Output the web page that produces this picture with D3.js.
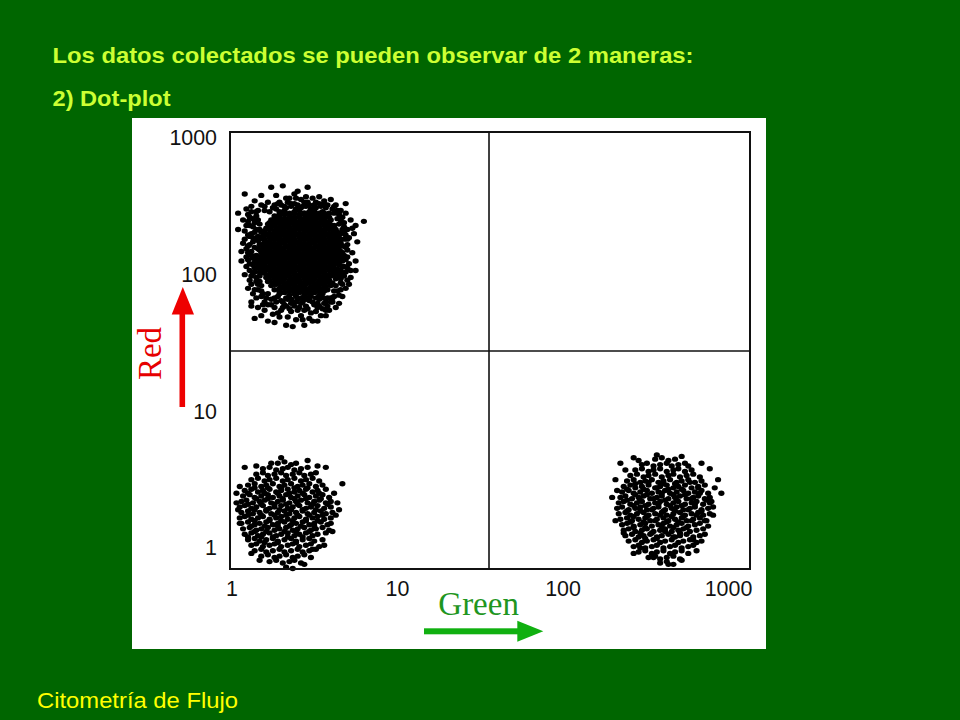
<!DOCTYPE html>
<html><head><meta charset="utf-8">
<script src="https://cdn.jsdelivr.net/npm/d3@7"></script>
<style>html,body{margin:0;padding:0;background:#006600;} svg{display:block;}</style>
</head><body><svg id="c" width="960" height="720"></svg>
<script>
// ---- text ----
const titleLines = ["Los datos colectados se pueden observar de 2 maneras:", "2) Dot-plot"];
const footerText = "Citometría de Flujo";
const xAxisName = "Green";
const yAxisName = "Red";
// ---- axes (log-channel units: 100 channels per decade, 0 = intensity 1) ----
const tickValues = [0, 100, 200, 300];
const tickLabels = ["1", "10", "100", "1000"];
const xDomain = [-0.9, 313.3];
const yDomain = [-15.4, 304.4];
const gateGreen = [155.6];
const gateRed = [144.1];
// ---- events: [green channel, red channel] ----
const clusterTopLeft = [
[33,249],[36,250],[39,248],[42,249],[45,250],[48,248],[51,249],
[29,246],[32,247],[35,245],[38,246],[41,247],[44,245],[47,246],[50,247],[53,245],[55,246],
[26,243],[29,242],[32,244],[35,243],[38,242],[41,243],[44,244],[47,242],[50,243],[53,244],[56,242],[58,243],
[24,240],[27,241],[30,239],[33,240],[36,241],[39,239],[42,240],[45,241],[48,239],[51,240],[54,241],[57,239],[60,240],
[22,237],[25,236],[28,238],[31,237],[34,236],[37,238],[40,237],[43,236],[46,238],[49,237],[52,236],[55,238],[58,237],[61,236],
[21,234],[24,235],[27,233],[30,234],[33,235],[36,233],[39,234],[42,235],[45,233],[48,234],[51,235],[54,233],[57,234],[60,235],[63,233],
[20,231],[23,230],[26,232],[29,231],[32,230],[35,232],[38,231],[41,230],[44,232],[47,231],[50,230],[53,232],[56,231],[59,230],[62,232],[64,231],
[19,228],[22,229],[25,227],[28,228],[31,229],[34,227],[37,228],[40,229],[43,227],[46,228],[49,229],[52,227],[55,228],[58,229],[61,227],[64,228],
[20,225],[23,224],[26,226],[29,225],[32,224],[35,226],[38,225],[41,224],[44,226],[47,225],[50,224],[53,226],[56,225],[59,224],[62,226],[65,225],
[18,222],[21,223],[24,221],[27,222],[30,223],[33,221],[36,222],[39,223],[42,221],[45,222],[48,223],[51,221],[54,222],[57,223],[60,221],[63,222],[66,223],
[19,219],[22,218],[25,220],[28,219],[31,218],[34,220],[37,219],[40,218],[43,220],[46,219],[49,218],[52,220],[55,219],[58,218],[61,220],[64,219],
[18,216],[21,217],[24,215],[27,216],[30,217],[33,215],[36,216],[39,217],[42,215],[45,216],[48,217],[51,215],[54,216],[57,217],[60,215],[63,216],[66,217],
[19,213],[22,212],[25,214],[28,213],[31,212],[34,214],[37,213],[40,212],[43,214],[46,213],[49,212],[52,214],[55,213],[58,212],[61,214],[64,213],
[18,210],[21,211],[24,209],[27,210],[30,211],[33,209],[36,210],[39,211],[42,209],[45,210],[48,211],[51,209],[54,210],[57,211],[60,209],[63,210],[66,211],
[20,207],[23,206],[26,208],[29,207],[32,206],[35,208],[38,207],[41,206],[44,208],[47,207],[50,206],[53,208],[56,207],[59,206],[62,208],[65,207],
[19,204],[22,205],[25,203],[28,204],[31,205],[34,203],[37,204],[40,205],[43,203],[46,204],[49,205],[52,203],[55,204],[58,205],[61,203],[64,204],
[20,201],[23,200],[26,202],[29,201],[32,200],[35,202],[38,201],[41,200],[44,202],[47,201],[50,200],[53,202],[56,201],[59,200],[62,202],[64,201],
[21,198],[24,199],[27,197],[30,198],[33,199],[36,197],[39,198],[42,199],[45,197],[48,198],[51,199],[54,197],[57,198],[60,199],[63,197],
[22,195],[25,194],[28,196],[31,195],[34,194],[37,196],[40,195],[43,194],[46,196],[49,195],[52,194],[55,196],[58,195],[61,194],
[24,192],[27,193],[30,191],[33,192],[36,193],[39,191],[42,192],[45,193],[48,191],[51,192],[54,193],[57,191],[60,192],
[26,189],[29,188],[32,190],[35,189],[38,188],[41,190],[44,189],[47,188],[50,190],[53,189],[56,188],[58,189],
[29,186],[32,187],[35,185],[38,186],[41,187],[44,185],[47,186],[50,187],[53,185],[55,186],
[33,183],[36,182],[39,184],[42,183],[45,182],[48,184],[51,183],
[29,244],[32,245],[35,244],[38,245],[41,244],[44,245],[47,244],[50,245],[53,244],[56,245],
[26,241],[29,242],[32,241],[35,242],[38,241],[41,242],[44,241],[47,242],[50,241],[53,242],[56,241],[59,242],
[23,238],[26,239],[29,238],[32,239],[35,238],[38,239],[41,238],[44,239],[47,238],[50,239],[53,238],[56,239],[59,238],
[23,235],[26,236],[29,235],[32,236],[35,235],[38,236],[41,235],[44,236],[47,235],[50,236],[53,235],[56,236],[59,235],[62,236],
[20,232],[23,233],[26,232],[29,233],[32,232],[35,233],[38,232],[41,233],[44,232],[47,233],[50,232],[53,233],[56,232],[59,233],[62,232],
[20,229],[23,230],[26,229],[29,230],[32,229],[35,230],[38,229],[41,230],[44,229],[47,230],[50,229],[53,230],[56,229],[59,230],[62,229],
[20,226],[23,227],[26,226],[29,227],[32,226],[35,227],[38,226],[41,227],[44,226],[47,227],[50,226],[53,227],[56,226],[59,227],[62,226],[65,227],
[20,223],[23,224],[26,223],[29,224],[32,223],[35,224],[38,223],[41,224],[44,223],[47,224],[50,223],[53,224],[56,223],[59,224],[62,223],[65,224],
[20,220],[23,221],[26,220],[29,221],[32,220],[35,221],[38,220],[41,221],[44,220],[47,221],[50,220],[53,221],[56,220],[59,221],[62,220],[65,221],
[20,217],[23,218],[26,217],[29,218],[32,217],[35,218],[38,217],[41,218],[44,217],[47,218],[50,217],[53,218],[56,217],[59,218],[62,217],[65,218],
[20,214],[23,215],[26,214],[29,215],[32,214],[35,215],[38,214],[41,215],[44,214],[47,215],[50,214],[53,215],[56,214],[59,215],[62,214],[65,215],
[20,211],[23,212],[26,211],[29,212],[32,211],[35,212],[38,211],[41,212],[44,211],[47,212],[50,211],[53,212],[56,211],[59,212],[62,211],[65,212],
[20,208],[23,209],[26,208],[29,209],[32,208],[35,209],[38,208],[41,209],[44,208],[47,209],[50,208],[53,209],[56,208],[59,209],[62,208],[65,209],
[20,205],[23,206],[26,205],[29,206],[32,205],[35,206],[38,205],[41,206],[44,205],[47,206],[50,205],[53,206],[56,205],[59,206],[62,205],
[20,202],[23,203],[26,202],[29,203],[32,202],[35,203],[38,202],[41,203],[44,202],[47,203],[50,202],[53,203],[56,202],[59,203],[62,202],
[23,199],[26,200],[29,199],[32,200],[35,199],[38,200],[41,199],[44,200],[47,199],[50,200],[53,199],[56,200],[59,199],[62,200],
[23,196],[26,197],[29,196],[32,197],[35,196],[38,197],[41,196],[44,197],[47,196],[50,197],[53,196],[56,197],[59,196],
[26,193],[29,194],[32,193],[35,194],[38,193],[41,194],[44,193],[47,194],[50,193],[53,194],[56,193],[59,194],
[29,190],[32,191],[35,190],[38,191],[41,190],[44,191],[47,190],[50,191],[53,190],[56,191],
[32,187],[35,188],[38,187],[41,188],[44,187],[47,188],[50,187],[53,188],
[24,264],[31,265],[46,264],[8,259],[18,258],[27,258],[38,259],[53,257],[60,255],[14,254],[22,253],[29,253],[56,252],[63,251],[69,252],[20,250],[26,251],[57,249],[61,248],[66,247],[35,256],[42,255],[49,256],[40,261],[16,247],[23,246],[59,245],
[4,245],[4,233],[6,217],[7,240],[9,236],[11,242],[12,230],[14,238],[8,226],[10,221],[13,224],[15,233],[16,228],[6,210],[9,206],[12,214],[14,209],[8,200],[11,196],[14,202],[16,205],[10,190],[13,186],[16,193],[17,199],[12,180],[15,183],[18,188],[16,176],[12,177],[20,180],[22,186],
[80,239],[69,245],[72,240],[75,236],[68,238],[70,233],[74,230],[67,233],[71,227],[76,224],[68,226],[69,220],[73,216],[70,213],[75,210],[68,206],[72,203],[75,203],[67,200],[70,196],[66,194],[69,190],[64,188],[67,184],[62,184],[65,179],[60,180],[63,176],[59,174],[57,170],
[14,168],[26,165],[37,162],[49,166],[20,174],[24,178],[28,172],[31,176],[34,169],[36,179],[40,174],[43,167],[45,177],[48,172],[52,176],[54,170],[56,179],[30,181],[39,180],[47,181],[33,163],[42,170],[26,183],[53,182],[18,170],[22,166],[44,163],[58,183],
[9,248],[12,246],[15,243],[10,239],[13,235],[17,237],[8,232],[11,228],[14,226],[17,222],[9,219],[12,217],[15,214],[10,211],[13,207],[16,211],[11,203],[15,198],[12,193],[17,195],[14,189],[18,184],[9,213],[7,223],[16,219],
[67,242],[65,237],[69,229],[67,216],[70,222],[71,208],[67,210],[69,202],[66,197],[72,198],[68,214],[73,234],[64,241],[62,245],[71,193],
[22,178],[27,180],[32,178],[35,175],[38,177],[42,179],[44,174],[50,178],[55,175],[58,177],[61,180],[29,169],[39,167],[47,168],[52,166],[25,171],
[30,251],[34,253],[38,252],[44,253],[47,251],[51,253],[54,250],[27,248],[58,251],[65,244],
[10,244],[13,241],[16,240],[11,236],[14,231],[17,233],[10,229],[13,227],[16,225],[11,222],[14,220],[17,218],[10,216],[13,212],[16,208],[11,208],[14,205],[17,202],[12,199],[15,195],[18,192],[16,189],[19,186],[13,201],[18,207],[18,213],[17,226],[18,231],[15,246],[12,250],
[66,240],[68,235],[66,230],[70,226],[67,221],[70,218],[66,213],[69,211],[67,206],[70,205],[66,203],[68,199],[65,198],[67,193],[63,192],[66,189],[65,185],[62,188],[61,183],[68,231],
[24,182],[28,184],[31,180],[34,182],[37,180],[40,182],[43,180],[46,183],[49,180],[52,179],[55,183],[57,180],[60,183],[26,176],[30,174],[33,177],[36,173],[41,176],[46,175],[51,173],[53,177],[57,174],[21,183],[19,178],
[25,249],[28,252],[32,250],[36,252],[40,251],[43,250],[46,253],[50,251],[53,252],[56,254],[62,250],[64,247],[20,247],[18,251],[33,256],[45,257],[39,256]
];
const clusterBottomLeft = [
[28,62],[32,63],[36,61],[39,62],
[19,58],[23,59],[27,57],[31,58],[34,59],[38,57],[42,58],[46,59],
[15,54],[19,55],[22,53],[26,54],[30,55],[33,53],[37,54],[41,55],[44,53],[48,54],[51,55],
[12,50],[16,51],[20,49],[23,50],[27,51],[31,49],[34,50],[38,51],[42,49],[45,50],[49,51],[53,49],
[10,46],[14,47],[18,45],[21,46],[25,47],[29,45],[32,46],[36,47],[40,45],[43,46],[47,47],[51,45],[55,46],
[8,42],[12,43],[16,41],[19,42],[23,43],[27,41],[30,42],[34,43],[38,41],[41,42],[45,43],[49,41],[52,42],[57,43],
[7,38],[11,39],[14,37],[18,38],[22,39],[25,37],[29,38],[33,39],[36,37],[40,38],[44,39],[47,37],[51,38],[55,39],[59,37],
[6,34],[9,35],[13,33],[17,34],[20,35],[24,33],[28,34],[31,35],[35,33],[39,34],[42,35],[46,33],[50,34],[53,35],[57,33],[60,34],
[5,30],[8,31],[12,29],[15,30],[19,31],[23,29],[26,30],[30,31],[34,29],[37,30],[41,31],[45,29],[48,30],[52,31],[56,29],[60,30],
[6,26],[10,27],[13,25],[17,26],[21,27],[24,25],[28,26],[32,27],[35,25],[39,26],[43,27],[46,25],[50,26],[54,27],[57,25],[61,26],
[5,22],[8,23],[12,21],[16,22],[19,23],[23,21],[27,22],[30,23],[34,21],[38,22],[41,23],[45,21],[49,22],[52,23],[56,21],[60,22],
[6,18],[10,19],[14,17],[17,18],[21,19],[25,17],[28,18],[32,19],[36,17],[39,18],[43,19],[47,17],[50,18],[54,19],[58,17],
[7,14],[11,15],[15,13],[18,14],[22,15],[26,13],[29,14],[33,15],[37,13],[40,14],[44,15],[48,13],[51,14],[55,15],[59,13],
[8,10],[12,11],[16,9],[19,10],[23,11],[27,9],[30,10],[34,11],[38,9],[41,10],[45,11],[49,9],[52,10],[57,11],
[10,6],[14,7],[17,5],[21,6],[25,7],[28,5],[32,6],[36,7],[39,5],[43,6],[47,7],[50,5],[55,6],
[12,2],[15,3],[19,1],[23,2],[26,3],[30,1],[34,2],[37,3],[41,1],[45,2],[48,3],[53,1],
[14,-2],[18,-1],[21,-3],[25,-2],[29,-1],[32,-3],[36,-2],[40,-1],[43,-3],[47,-2],[51,-1],
[18,-6],[22,-5],[26,-7],[29,-6],[33,-5],[37,-7],[40,-6],[44,-5],[48,-7],
[23,-10],[27,-9],[31,-11],[35,-10],[38,-9],[42,-11],
[8,59],[30,66],[46,64],[67,47],[57,59],[5,45],[3,33],[5,18],[10,8],[37,-15],[44,-12],[64,33],[60,18],[49,-1],[62,40],[63,24],[4,28],[3,40],[52,60],[24,62],[15,60],[61,12],[56,2],[17,-9],[12,-4],[33,-14],[65,28],
[14,44],[22,44],[30,44],[38,44],[46,44],
[10,40],[20,40],[28,40],[35,40],[43,40],[53,40],
[15,36],[22,36],[31,36],[38,36],[45,36],[54,36],
[10,32],[18,32],[26,32],[33,32],[40,32],[49,32],[58,32],
[14,28],[21,28],[29,28],[36,28],[43,28],[51,28],
[10,24],[18,24],[26,24],[33,24],[40,24],[47,24],[55,24],
[14,20],[23,20],[30,20],[37,20],[45,20],[52,20],
[12,16],[20,16],[28,16],[35,16],[42,16],[50,16],
[14,12],[21,12],[32,12],[39,12],[47,12],
[18,8],[25,8],[34,8],[43,8],
[20,4],[28,4],[39,4]
];
const clusterBottomRight = [
[256,65],[260,66],[264,64],[268,65],
[248,61],[251,62],[255,60],[259,61],[263,62],[266,60],[270,61],[274,62],[276,60],
[244,57],[248,58],[252,56],[255,57],[259,58],[263,56],[267,57],[270,58],[274,56],[278,57],
[241,53],[245,54],[249,52],[252,53],[256,54],[260,52],[264,53],[267,54],[271,52],[275,53],[279,54],[283,52],
[239,49],[243,50],[247,48],[250,49],[254,50],[258,48],[261,49],[265,50],[269,48],[272,49],[276,50],[280,48],[284,49],
[237,45],[241,46],[244,44],[248,45],[252,46],[256,44],[259,45],[263,46],[267,44],[270,45],[274,46],[278,44],[282,45],[286,46],
[236,41],[240,42],[243,40],[247,41],[251,42],[254,40],[258,41],[262,42],[265,40],[269,41],[273,42],[276,40],[280,41],[284,42],[288,40],
[235,37],[238,38],[242,36],[246,37],[249,38],[253,36],[257,37],[260,38],[264,36],[268,37],[271,38],[275,36],[279,37],[282,38],[286,36],[289,37],
[234,33],[237,34],[241,32],[245,33],[248,34],[252,32],[256,33],[259,34],[263,32],[267,33],[270,34],[274,32],[278,33],[281,34],[285,32],[289,33],
[233,29],[236,30],[240,28],[244,29],[247,30],[251,28],[255,29],[258,30],[262,28],[266,29],[269,30],[273,28],[277,29],[280,30],[284,28],[288,29],[291,30],
[234,25],[238,26],[241,24],[245,25],[249,26],[252,24],[256,25],[260,26],[263,24],[267,25],[271,26],[274,24],[278,25],[282,26],[285,24],[289,25],
[235,21],[239,22],[242,20],[246,21],[250,22],[253,20],[257,21],[261,22],[264,20],[268,21],[272,22],[275,20],[279,21],[283,22],[287,20],
[236,17],[239,18],[243,16],[247,17],[250,18],[254,16],[258,17],[261,18],[265,16],[269,17],[272,18],[276,16],[280,17],[283,18],[288,16],
[237,13],[240,14],[244,12],[248,13],[251,14],[255,12],[259,13],[262,14],[266,12],[270,13],[273,14],[277,12],[281,13],[285,14],
[238,9],[242,10],[246,8],[249,9],[253,10],[257,8],[260,9],[264,10],[268,8],[271,9],[275,10],[279,8],[283,9],[286,10],
[240,5],[244,6],[248,4],[251,5],[255,6],[259,4],[262,5],[266,6],[270,4],[273,5],[277,6],[281,4],[284,5],
[243,1],[246,2],[250,0],[254,1],[257,2],[261,0],[265,1],[268,2],[272,0],[276,1],[279,2],
[246,-3],[250,-2],[254,-4],[257,-3],[261,-2],[265,-4],[268,-3],[272,-2],[276,-4],
[252,-7],[256,-6],[259,-8],[263,-7],[267,-6],[271,-8],
[259,-11],[263,-10],[267,-12],
[235,62],[243,66],[257,68],[272,67],[284,62],[294,50],[290,34],[286,20],[279,6],[272,-9],[264,-12],[255,-7],[247,0],[237,11],[232,20],[230,37],[232,50],[292,44],[291,24],[233,42],[238,57],[289,58],[246,64],[281,-2],[243,-4],[296,40],
[244,47],[252,48],[261,47],[268,47],[277,48],
[239,43],[249,43],[257,44],[264,43],[272,43],[282,44],
[244,39],[251,39],[260,40],[267,39],[274,39],[283,40],
[239,35],[247,35],[255,36],[262,35],[269,35],[278,36],[287,35],
[243,31],[250,31],[258,32],[265,31],[272,31],[280,32],
[239,27],[247,27],[254,28],[261,27],[268,27],[276,28],[284,27],
[243,23],[251,23],[259,24],[266,23],[273,23],[281,24],
[241,19],[249,19],[256,20],[263,19],[270,19],[278,20],
[243,15],[250,15],[260,16],[267,15],[275,15],
[247,11],[254,11],[262,12],[271,11],
[250,7],[257,7],[267,8]
];

const svg = d3.select("#c");
const SANS = "'Liberation Sans', Arial, Helvetica, sans-serif";
const SERIF = "'Liberation Serif', 'Times New Roman', Times, serif";

svg.append("rect").attr("width", 960).attr("height", 720).attr("fill", "#006600");

// titles
svg.append("text").attr("x", 52.5).attr("y", 62.7)
  .attr("font-family", SANS).attr("font-weight", "bold").attr("font-size", 21.5)
  .attr("fill", "#ccff33").attr("textLength", 641).attr("lengthAdjust", "spacingAndGlyphs")
  .text(titleLines[0]);
svg.append("text").attr("x", 52.5).attr("y", 106)
  .attr("font-family", SANS).attr("font-weight", "bold").attr("font-size", 21.5)
  .attr("fill", "#ccff33").attr("textLength", 118).attr("lengthAdjust", "spacingAndGlyphs")
  .text(titleLines[1]);
svg.append("text").attr("x", 37).attr("y", 708.3)
  .attr("font-family", SANS).attr("font-size", 21.5)
  .attr("fill", "#ffff00").attr("textLength", 201).attr("lengthAdjust", "spacingAndGlyphs")
  .text(footerText);

// white panel
svg.append("rect").attr("x", 132).attr("y", 118).attr("width", 634).attr("height", 531).attr("fill", "#ffffff");

const x = d3.scaleLinear().domain(xDomain).range([230, 750]);
const y = d3.scaleLinear().domain(yDomain).range([569, 132]);

// events
const events = clusterTopLeft.concat(clusterBottomLeft, clusterBottomRight);
svg.append("g").selectAll("ellipse").data(events).join("ellipse")
  .attr("cx", d => x(d[0])).attr("cy", d => y(d[1]))
  .attr("rx", 3.1).attr("ry", 2.7).attr("fill", "#000");

// quadrant gates
svg.append("g").selectAll("line.gx").data(gateGreen).join("line")
  .attr("x1", d => x(d)).attr("x2", d => x(d))
  .attr("y1", y.range()[0]).attr("y2", y.range()[1])
  .attr("stroke", "#111").attr("stroke-width", 1.6);
svg.append("g").selectAll("line.gy").data(gateRed).join("line")
  .attr("y1", d => y(d)).attr("y2", d => y(d))
  .attr("x1", x.range()[0]).attr("x2", x.range()[1])
  .attr("stroke", "#111").attr("stroke-width", 1.6);

// frame
svg.append("rect")
  .attr("x", x.range()[0]).attr("y", y.range()[1])
  .attr("width", x.range()[1] - x.range()[0]).attr("height", y.range()[0] - y.range()[1])
  .attr("fill", "none").attr("stroke", "#111").attr("stroke-width", 2);

// axes
const xAxis = d3.axisBottom(x).tickValues(tickValues).tickSize(0).tickPadding(12)
  .tickFormat((d, i) => tickLabels[i]);
const gx = svg.append("g").attr("transform", `translate(0,${y.range()[0]})`).call(xAxis);
gx.select(".domain").remove();
gx.selectAll("text").attr("font-family", SANS).attr("font-size", 21.4).attr("fill", "#111");

const yAxis = d3.axisLeft(y).tickValues(tickValues).tickSize(0).tickPadding(13)
  .tickFormat((d, i) => tickLabels[i]);
const gy = svg.append("g").attr("transform", `translate(${x.range()[0]},0)`).call(yAxis);
gy.select(".domain").remove();
gy.selectAll("text").attr("font-family", SANS).attr("font-size", 21.4).attr("fill", "#111");

// red arrow + label
svg.append("rect").attr("x", 179.5).attr("y", 313).attr("width", 5.6).attr("height", 94).attr("fill", "#ee0000");
svg.append("path").attr("d", "M171.7,314.5 L194,314.5 L182.8,287 Z").attr("fill", "#ee0000");
svg.append("text").attr("transform", "translate(160.5,353.5) rotate(-90)")
  .attr("text-anchor", "middle").attr("font-family", SERIF).attr("font-size", 33)
  .attr("fill", "#e60000").text(yAxisName);

// green arrow + label
svg.append("rect").attr("x", 424).attr("y", 628.3).attr("width", 95).attr("height", 6).attr("fill", "#10b010");
svg.append("path").attr("d", "M517.3,620.7 L517.3,641.7 L543.3,631.2 Z").attr("fill", "#10b010");
svg.append("text").attr("x", 438.3).attr("y", 615)
  .attr("font-family", SERIF).attr("font-size", 33).attr("fill", "#1f961f").text(xAxisName);
</script>
</body></html>
